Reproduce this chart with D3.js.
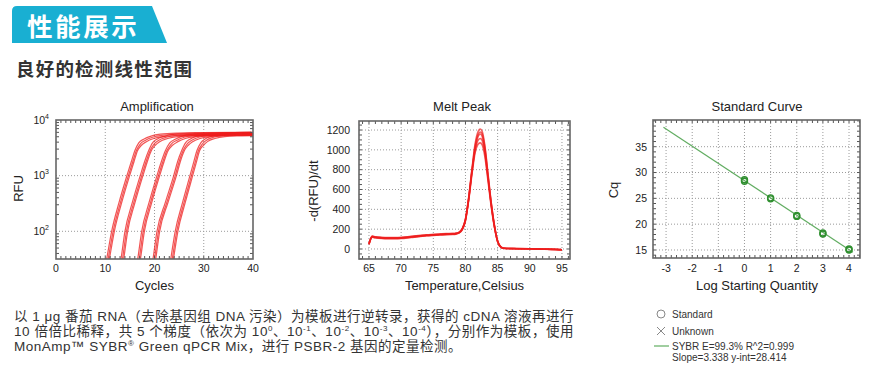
<!DOCTYPE html>
<html><head><meta charset="utf-8">
<script src="https://cdn.jsdelivr.net/npm/d3@7"></script>
<style>
body{margin:0;background:#fff}
svg{display:block;font-family:"Liberation Sans",Arial,"Noto Sans CJK SC",sans-serif}
</style>
</head><body>
<svg id="c" width="871" height="372"></svg>
<script>
// ---------------- DATA ----------------
const headerTitle = "性能展示";
const sectionTitle = "良好的检测线性范围";
const chartTitles = ["Amplification", "Melt Peak", "Standard Curve"];

// Amplification: [cycle, RFU] read per dilution (10^0 .. 10^-4)
const ampCurve1 = [[9.6,10],[10.6,32],[11.6,100],[13.1,330],[14.7,1000],[15.6,1800],[16.3,2800],[17.1,3700],[18.1,4300],[19.6,4900],[21.5,5300],[25,5550],[30,5650],[40,5750]];
const ampCurve2 = [[12.5,10],[13.5,32],[14.3,100],[15.8,330],[17.4,1000],[18.3,1800],[19.1,2800],[19.9,3700],[20.8,4300],[22.4,4900],[24.4,5300],[28,5500],[33,5600],[40,5700]];
const ampCurve3 = [[15.9,10],[16.9,32],[17.7,100],[19.2,330],[20.8,1000],[21.7,1800],[22.5,2800],[23.4,3700],[24.5,4300],[26,4900],[28,5300],[31,5500],[35,5600],[40,5650]];
const ampCurve4 = [[19,10],[20,32],[20.8,100],[22.5,330],[24.2,1000],[25,1800],[25.8,2800],[26.6,3700],[27.5,4300],[29,4900],[31,5300],[34,5500],[40,5650]];
const ampCurve5 = [[22.6,10],[23.6,32],[24.5,100],[26,330],[27.5,1000],[28.3,1800],[28.9,2800],[29.7,3700],[30.5,4300],[32,4900],[34,5300],[37,5450],[40,5500]];
const ampCurves = [ampCurve1, ampCurve2, ampCurve3, ampCurve4, ampCurve5];
const ampReplicateShift = [-0.3, 0, 0.25];   // cycle offsets between replicate wells
const ampReplicateScale = [1.05, 1.0, 0.95]; // plateau spread between replicate wells
const ampTicksX = [0, 10, 20, 30, 40];
const ampTicksY = [100, 1000, 10000];
const ampExponents = ["2", "3", "4"];

// Melt peak: -d(RFU)/dt vs temperature, several wells
const meltTemps = [65,65.5,66,67,68,69,70,71,72,73,74,75,76,77,78,78.5,79,79.5,80,80.5,81,81.5,82,82.3,82.6,83,83.5,84,84.5,85,85.5,86,87,88,90,92,94,95];
const meltA = [50,125,118,112,110,110,112,118,125,132,138,142,146,150,152,155,165,200,300,520,800,1060,1190,1210,1185,1050,760,470,240,80,20,8,5,4,2,-1,-5,-8];
const meltB = [45,118,112,106,104,104,106,112,120,127,133,137,141,145,147,150,160,195,290,500,770,1010,1140,1160,1135,1005,730,455,230,75,18,7,4,3,1,-2,-5,-8];
const meltC = [55,130,124,118,116,116,118,124,131,138,144,148,152,156,158,161,170,205,295,505,775,1000,1100,1115,1095,975,715,445,228,78,20,8,5,4,2,-1,-4,-7];
const meltD = [48,122,115,109,107,107,109,115,122,129,135,139,143,147,149,152,162,196,285,490,750,970,1060,1070,1050,940,690,430,220,72,17,6,4,3,1,-2,-5,-8];
const meltE = [52,127,120,114,112,112,114,120,127,134,140,144,148,152,154,157,167,202,298,510,790,1035,1160,1180,1160,1030,745,462,235,78,19,7,5,3,2,-1,-4,-7];
const meltSeries = [meltA, meltB, meltC, meltD, meltE];
const meltTicksX = [65,70,75,80,85,90,95];
const meltTicksY = [0,200,400,600,800,1000,1200];

// Standard curve
const stdLogQty = [0, 1, 2, 3, 4];
const stdCqRep1 = [28.6, 25.1, 21.7, 18.3, 15.2];
const stdCqRep2 = [28.3, 24.9, 21.5, 18.1, 15.0];
const stdSlope = -3.338, stdIntercept = 28.414;
const stdFitRange = [-3.1, 4.15];
const stdTicksX = [-3,-2,-1,0,1,2,3,4];
const stdTicksY = [15,20,25,30,35];
const legendLabels = ["Standard", "Unknown", "SYBR E=99.3% R^2=0.999", "Slope=3.338 y-int=28.414"];

// Paragraph (text, superscript flag)
const paragraphLines = [
  [["以 1 μg 番茄 RNA（去除基因组 DNA 污染）为模板进行逆转录，获得的 cDNA 溶液再进行"]],
  [["10 倍倍比稀释，共 5 个梯度（依次为 10"], ["0", 1], ["、10"], ["-1", 1], ["、10"], ["-2", 1], ["、10"], ["-3", 1], ["、10"], ["-4", 1], ["），分别作为模板，使用"]],
  [["MonAmp™ SYBR"], ["®", 1], [" Green qPCR Mix，进行 PSBR-2 基因的定量检测。"]]
];

// ---------------- DRAW ----------------
const svg = d3.select("#c");
const RED = "#ee1c1c", GREEN_LINE = "#62ad62", GREEN_PT = "#2f8f2f";

// Header band
svg.append("path")
  .attr("d", "M12,43 L12,11 Q12,6 17,6 L152,6 L167,43 Z")
  .attr("fill", "#19afd2");
svg.append("text").attr("x", 27).attr("y", 35.5)
  .attr("font-family", "'Noto Sans CJK SC',sans-serif").attr("font-weight", 700)
  .attr("font-size", 25.5).attr("letter-spacing", 2.6).attr("fill", "#fff").text(headerTitle);
svg.append("text").attr("x", 16).attr("y", 76)
  .attr("font-family", "'Noto Sans CJK SC',sans-serif").attr("font-weight", 700)
  .attr("font-size", 18.5).attr("letter-spacing", 1.2).attr("fill", "#333").text(sectionTitle);

function frame(g, x, y, id) {
  const [x0, x1] = x.range(), [y1, y0] = y.range();
  g.append("clipPath").attr("id", id).append("rect")
    .attr("x", x0).attr("y", y0).attr("width", x1 - x0).attr("height", y1 - y0);
  return {x0, x1, y0, y1};
}
function grid(g, b, xs, ys) {
  const gg = g.append("g").attr("stroke", "#9a9a9a").attr("stroke-dasharray", "1,2").attr("stroke-width", 1);
  xs.forEach(px => gg.append("line").attr("x1", px).attr("x2", px).attr("y1", b.y0).attr("y2", b.y1));
  ys.forEach(py => gg.append("line").attr("y1", py).attr("y2", py).attr("x1", b.x0).attr("x2", b.x1));
}
function border(g, b, minorX, minorY) {
  const t = g.append("g").attr("stroke", "#555").attr("stroke-width", 1);
  minorX.forEach(px => {
    t.append("line").attr("x1", px).attr("x2", px).attr("y1", b.y1).attr("y2", b.y1 - 3);
    t.append("line").attr("x1", px).attr("x2", px).attr("y1", b.y0).attr("y2", b.y0 + 3);
  });
  minorY.forEach(py => {
    t.append("line").attr("y1", py).attr("y2", py).attr("x1", b.x0).attr("x2", b.x0 + 3);
    t.append("line").attr("y1", py).attr("y2", py).attr("x1", b.x1).attr("x2", b.x1 - 3);
  });
  g.append("rect").attr("x", b.x0).attr("y", b.y0).attr("width", b.x1 - b.x0).attr("height", b.y1 - b.y0)
    .attr("fill", "none").attr("stroke", "#666").attr("stroke-width", 1.6);
}
function title(g, cx, text) {
  g.append("text").attr("x", cx).attr("y", 111).attr("text-anchor", "middle")
    .attr("font-size", 13).attr("fill", "#222").text(text);
}
function xLabels(g, x, ticks, fmt) {
  ticks.forEach(v => g.append("text").attr("x", x(v)).attr("y", 272).attr("text-anchor", "middle")
    .attr("font-size", 10.5).attr("fill", "#222").text(fmt ? fmt(v) : v));
}
function yLabels(g, y, ticks, right) {
  ticks.forEach(v => g.append("text").attr("x", right).attr("y", y(v) + 3.8).attr("text-anchor", "end")
    .attr("font-size", 10.5).attr("fill", "#222").text(v));
}
function xTitle(g, cx, text) {
  g.append("text").attr("x", cx).attr("y", 289.5).attr("text-anchor", "middle")
    .attr("font-size", 13).attr("fill", "#222").text(text);
}
function yTitle(g, cx, cy, text) {
  g.append("text").attr("transform", `translate(${cx + 4.5},${cy}) rotate(-90)`).attr("text-anchor", "middle")
    .attr("font-size", 13).attr("fill", "#222").text(text);
}

// ---- Amplification ----
{
  const g = svg.append("g");
  const x = d3.scaleLinear().domain([0, 40]).range([56, 253]);
  const y = d3.scaleLog().domain([31.8, 10000]).range([259, 120]);
  const b = frame(g, x, y, "clipAmp");
  grid(g, b, ampTicksX.map(x).filter(v => v > b.x0 + 1 && v < b.x1 - 1), ampTicksY.map(y).filter(v => v > b.y0 + 1));
  const line = d3.line().x(d => x(d[0])).y(d => y(d[1])).curve(d3.curveMonotoneX);
  const cg = g.append("g").attr("clip-path", "url(#clipAmp)");
  ampCurves.forEach(curve => {
    ampReplicateShift.forEach((s, i) => {
      const pts = curve.map(p => [Math.min(40, p[0] + s), p[1] * (p[1] > 3000 ? ampReplicateScale[i] : 1)]);
      cg.append("path").attr("d", line(pts)).attr("fill", "none")
        .attr("stroke", RED).attr("stroke-width", 1.2).attr("stroke-opacity", 0.75);
    });
  });
  const minorY = [];
  [10, 100, 1000].forEach(dec => d3.range(2, 10).forEach(k => { const v = dec * k; if (v > 31.8 && v < 10000) minorY.push(y(v)); }));
  border(g, b, d3.range(1, 40).map(x), minorY);
  title(g, 157, chartTitles[0]);
  xLabels(g, x, ampTicksX);
  ampTicksY.forEach((v, i) => {
    const t = g.append("text").attr("x", 49).attr("y", y(v) + 3.8).attr("text-anchor", "end")
      .attr("font-size", 10.5).attr("fill", "#222");
    t.append("tspan").text("10");
    t.append("tspan").attr("dy", -5).attr("font-size", 7).text(ampExponents[i]);
  });
  xTitle(g, 154.5, "Cycles");
  yTitle(g, 18.3, 188.5, "RFU");
}

// ---- Melt Peak ----
{
  const g = svg.append("g");
  const x = d3.scaleLinear().domain([63.45, 96.25]).range([359, 570]);
  const y = d3.scaleLinear().domain([-101, 1291]).range([259, 121]);
  const b = frame(g, x, y, "clipMelt");
  grid(g, b, meltTicksX.map(x), meltTicksY.map(y));
  const line = d3.line().x((d, i) => x(meltTemps[i])).y(d => y(d)).curve(d3.curveMonotoneX);
  const cg = g.append("g").attr("clip-path", "url(#clipMelt)");
  meltSeries.forEach(s => cg.append("path").attr("d", line(s)).attr("fill", "none")
    .attr("stroke", RED).attr("stroke-width", 1.6).attr("stroke-opacity", 0.7));
  border(g, b, d3.range(64, 97).map(x), d3.range(-100, 1291, 50).map(y));
  title(g, 462, chartTitles[1]);
  xLabels(g, x, meltTicksX);
  yLabels(g, y, meltTicksY, 350);
  xTitle(g, 464.5, "Temperature,Celsius");
  yTitle(g, 313.3, 191, "-d(RFU)/dt");
}

// ---- Standard Curve ----
{
  const g = svg.append("g");
  const x = d3.scaleLinear().domain([-3.5, 4.42]).range([653, 860]);
  const y = d3.scaleLinear().domain([13.45, 40.17]).range([258, 120]);
  const b = frame(g, x, y, "clipStd");
  grid(g, b, stdTicksX.map(x), stdTicksY.map(y));
  const cg = g.append("g").attr("clip-path", "url(#clipStd)");
  cg.append("line")
    .attr("x1", x(stdFitRange[0])).attr("y1", y(stdIntercept + stdSlope * stdFitRange[0]))
    .attr("x2", x(stdFitRange[1])).attr("y2", y(stdIntercept + stdSlope * stdFitRange[1]))
    .attr("stroke", GREEN_LINE).attr("stroke-width", 1.2);
  [stdCqRep1, stdCqRep2].forEach(rep => rep.forEach((c, i) =>
    cg.append("circle").attr("cx", x(stdLogQty[i])).attr("cy", y(c)).attr("r", 3)
      .attr("fill", "none").attr("stroke", GREEN_PT).attr("stroke-width", 1.4)));
  border(g, b, d3.range(-3.4, 4.42, 0.2).map(x), d3.range(14, 40.1, 1).map(y));
  title(g, 757, chartTitles[2]);
  xLabels(g, x, stdTicksX, v => v < 0 ? "-" + Math.abs(v) : v);
  yLabels(g, y, stdTicksY, 647);
  xTitle(g, 757, "Log Starting Quantity");
  yTitle(g, 613.3, 190, "Cq");

  // legend
  const lg = svg.append("g").attr("font-size", 10).attr("fill", "#333");
  lg.append("circle").attr("cx", 661).attr("cy", 314).attr("r", 4).attr("fill", "none").attr("stroke", "#888").attr("stroke-width", 1);
  lg.append("path").attr("d", "M657,327 L665,335 M665,327 L657,335").attr("stroke", "#888").attr("stroke-width", 1);
  lg.append("line").attr("x1", 654).attr("x2", 669).attr("y1", 346).attr("y2", 346).attr("stroke", GREEN_LINE).attr("stroke-width", 1.2);
  [317.5, 334.5, 349.5, 360.5].forEach((yy, i) =>
    lg.append("text").attr("x", 672).attr("y", yy).text(legendLabels[i]));
}

// ---- Paragraph ----
{
  const fam = "'Liberation Sans','Noto Sans CJK SC',sans-serif";
  const baseSpacing = 0.5;
  const pg = svg.append("g").attr("font-family", fam).attr("font-size", 13.5)
    .attr("letter-spacing", baseSpacing).attr("fill", "#333");
  const baselines = [321, 336, 350.5];
  const texts = paragraphLines.map((parts, li) => {
    const t = pg.append("text").attr("x", 14).attr("y", baselines[li]);
    let raised = false;
    parts.forEach(p => {
      const sp = t.append("tspan").text(p[0]);
      if (p[1]) { sp.attr("dy", -5).attr("font-size", 8); raised = true; }
      else if (raised) { sp.attr("dy", 5); raised = false; }
    });
    return t;
  });
  // justify line 2 to the width of line 1 (block-justified paragraph)
  const l1 = texts[0].node().getComputedTextLength();
  const l2 = texts[1].node().getComputedTextLength();
  const n2 = paragraphLines[1].map(p => p[0]).join("").length;
  if (l1 > l2) texts[1].attr("letter-spacing", baseSpacing + (l1 - l2) / n2);
}
</script>
</body></html>
